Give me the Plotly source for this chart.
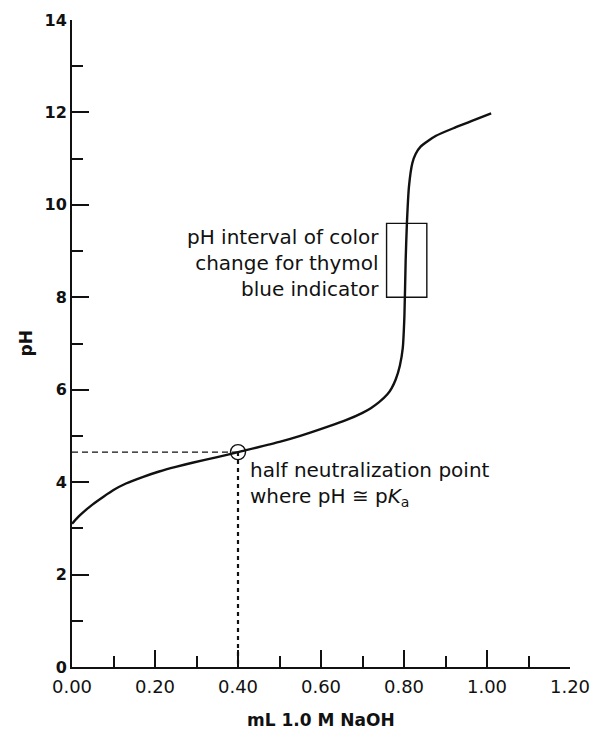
import plotly.graph_objects as go

# Titration curve
naoh_ml = [0.0, 0.01, 0.02, 0.035, 0.05, 0.075, 0.10, 0.13, 0.17, 0.21, 0.25, 0.29,
           0.35, 0.40, 0.50, 0.55, 0.62, 0.66, 0.70, 0.72, 0.74, 0.76, 0.77, 0.78,
           0.79, 0.797, 0.801, 0.804, 0.807, 0.812, 0.820, 0.828, 0.840,
           0.876, 0.925, 1.01]
ph = [3.10, 3.20, 3.29, 3.41, 3.52, 3.68, 3.83, 3.97, 4.11, 4.23, 4.33, 4.42,
      4.54, 4.65, 4.87, 5.00, 5.21, 5.34, 5.50, 5.60, 5.73, 5.90, 6.03, 6.22,
      6.52, 6.90, 7.60, 8.80, 9.60, 10.40, 10.90, 11.10, 11.26,
      11.49, 11.68, 11.98]

half_point_x = 0.40
half_point_ph = 4.65

indicator_x = [0.758, 0.855]
indicator_ph = [8.0, 9.6]

x_ticks = [0.0, 0.2, 0.4, 0.6, 0.8, 1.0, 1.2]
x_tick_text = ["0.00", "0.20", "0.40", "0.60", "0.80", "1.00", "1.20"]
y_ticks = [0, 2, 4, 6, 8, 10, 12, 14]

FONT = "DejaVu Sans"
INK = "#111111"

fig = go.Figure()

# dashed guide lines to the half-neutralization point
fig.add_trace(go.Scatter(x=[0.0, half_point_x], y=[half_point_ph, half_point_ph],
                         mode="lines", line=dict(color=INK, width=1.1, dash="6px,4px"),
                         hoverinfo="skip", showlegend=False))
fig.add_trace(go.Scatter(x=[half_point_x, half_point_x], y=[half_point_ph, 0.0],
                         mode="lines", line=dict(color=INK, width=2.2, dash="4px,4px"),
                         hoverinfo="skip", showlegend=False))

# titration curve
fig.add_trace(go.Scatter(x=naoh_ml, y=ph, mode="lines",
                         line=dict(color=INK, width=2.4, shape="spline", smoothing=0.6),
                         showlegend=False))

# half neutralization marker
fig.add_trace(go.Scatter(x=[half_point_x], y=[half_point_ph], mode="markers",
                         marker=dict(symbol="circle-open", size=15, color=INK,
                                     line=dict(width=1.4, color=INK)),
                         showlegend=False))

# indicator interval box
fig.add_shape(type="rect", x0=indicator_x[0], x1=indicator_x[1],
              y0=indicator_ph[0], y1=indicator_ph[1],
              line=dict(color=INK, width=1.4), layer="below")

fig.add_annotation(x=indicator_x[0], y=sum(indicator_ph) / 2, xref="x", yref="y",
                   text="pH interval of color<br>change for thymol<br>blue indicator",
                   showarrow=False, xanchor="right", yanchor="middle", align="right",
                   xshift=-6, yshift=-3, font=dict(family=FONT, size=20, color=INK))

fig.add_annotation(x=half_point_x, y=half_point_ph, xref="x", yref="y",
                   text="half neutralization point<br>where pH ≅ p<i>K</i><sub>a</sub>",
                   showarrow=False, xanchor="left", yanchor="top", align="left",
                   xshift=10, yshift=-4, font=dict(family=FONT, size=20, color=INK))

# axis titles
fig.add_annotation(x=0, y=0.5, xref="paper", yref="paper", text="<b>pH</b>",
                   showarrow=False, textangle=-90, xanchor="center", yanchor="middle",
                   xshift=-47, font=dict(family=FONT, size=17, color=INK))
fig.add_annotation(x=0.5, y=0, xref="paper", yref="paper", text="<b>mL 1.0 M NaOH</b>",
                   showarrow=False, xanchor="center", yanchor="middle",
                   yshift=-53, font=dict(family=FONT, size=17, color=INK))

fig.update_xaxes(range=[0, 1.2], tickvals=x_ticks, ticktext=x_tick_text,
                 automargin=False,
                 showline=True, linecolor=INK, linewidth=2, showgrid=False, zeroline=False,
                 ticks="inside", ticklen=17, tickwidth=1.6, tickcolor=INK,
                 minor=dict(dtick=0.1, tick0=0.1, ticks="inside", ticklen=11,
                            tickwidth=1.6, tickcolor=INK, showgrid=False),
                 ticklabelstandoff=2,
                 tickfont=dict(family=FONT, size=18, color=INK))
fig.update_yaxes(range=[0, 14], tickvals=y_ticks,
                 automargin=False,
                 showline=True, linecolor=INK, linewidth=2, showgrid=False, zeroline=False,
                 ticks="inside", ticklen=17, tickwidth=1.6, tickcolor=INK,
                 minor=dict(dtick=1, tick0=1, ticks="inside", ticklen=11,
                            tickwidth=1.6, tickcolor=INK, showgrid=False),
                 ticklabelstandoff=0,
                 tickfont=dict(family=FONT, size=16, color=INK, weight="bold"))

# page body adds an 8px margin, so the figure is sized to fit the 599x730 window
fig.update_layout(width=591, height=722, plot_bgcolor="white", paper_bgcolor="white",
                  margin=dict(l=64, r=29, t=12, b=63), showlegend=False)

fig.write_html("out.html")
